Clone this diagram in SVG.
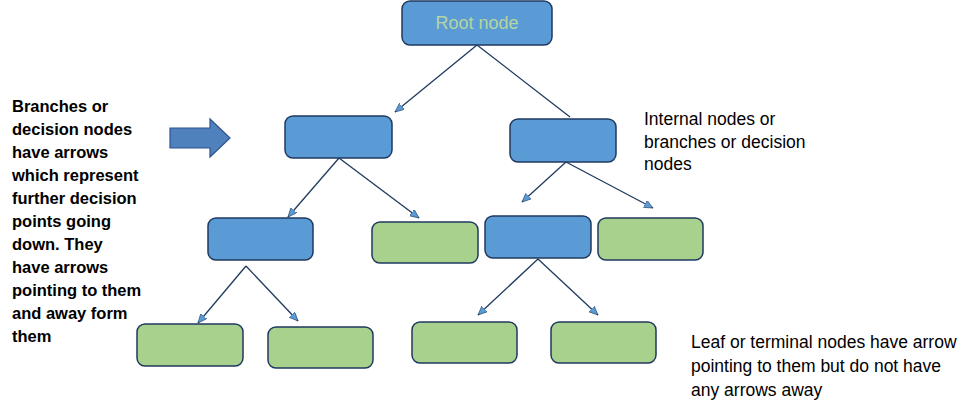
<svg xmlns="http://www.w3.org/2000/svg" width="976" height="413" viewBox="0 0 976 413">
<style>
.blue{fill:#5b9bd5;stroke:#1f3a5f;stroke-width:1.5}
.green{fill:#a9d18e;stroke:#1f3a5f;stroke-width:1.5}
.con{stroke:#1f3a5f;stroke-width:1.3;fill:none}
.t{font-family:"Liberation Sans",Arial,sans-serif;font-size:17.5px;fill:#000}
.tb{font-weight:bold;font-size:16.5px}
</style>
<defs>
<marker id="ah" markerWidth="10" markerHeight="8" refX="9" refY="4" orient="auto" markerUnits="userSpaceOnUse">
<path d="M0,0 L9,4 L0,8 Z" fill="#5b9bd5" stroke="#1f3a5f" stroke-width="0.6"/>
</marker>
</defs>
<rect width="976" height="413" fill="#fff"/>
<g id="connectors">
<line class="con" x1="477" y1="45" x2="395" y2="112" marker-end="url(#ah)"/>
<line class="con" x1="477" y1="45" x2="570" y2="117"/>
<line class="con" x1="339" y1="158" x2="288" y2="217" marker-end="url(#ah)"/>
<line class="con" x1="339" y1="158" x2="419" y2="218" marker-end="url(#ah)"/>
<line class="con" x1="566" y1="162" x2="522" y2="202" marker-end="url(#ah)"/>
<line class="con" x1="566" y1="162" x2="653" y2="208" marker-end="url(#ah)"/>
<line class="con" x1="246" y1="266" x2="198" y2="323" marker-end="url(#ah)"/>
<line class="con" x1="246" y1="266" x2="298" y2="321" marker-end="url(#ah)"/>
<line class="con" x1="538" y1="259" x2="478" y2="315" marker-end="url(#ah)"/>
<line class="con" x1="538" y1="259" x2="598" y2="315" marker-end="url(#ah)"/>
</g>
<g id="root">
<rect class="blue" x="402" y="1" width="150" height="44" rx="8"/>
<text x="477" y="29" text-anchor="middle" font-family="Liberation Sans,Arial,sans-serif" font-size="18" fill="#b5d5a3">Root node</text>
</g>
<g id="internal-left"><rect class="blue" x="285" y="116" width="107" height="42" rx="8"/></g>
<g id="internal-right"><rect class="blue" x="510" y="119" width="106" height="43" rx="8"/></g>
<g id="l3-blue-left"><rect class="blue" x="208" y="218" width="105" height="42" rx="8"/></g>
<g id="l3-green-1"><rect class="green" x="372" y="222" width="106" height="41" rx="8"/></g>
<g id="l3-blue-right"><rect class="blue" x="485" y="216" width="106" height="42" rx="8"/></g>
<g id="l3-green-2"><rect class="green" x="598" y="218" width="105" height="42" rx="8"/></g>
<g id="leaf-1"><rect class="green" x="137" y="324" width="106" height="42" rx="8"/></g>
<g id="leaf-2"><rect class="green" x="268" y="327" width="105" height="41" rx="8"/></g>
<g id="leaf-3"><rect class="green" x="412" y="322" width="105" height="41" rx="8"/></g>
<g id="leaf-4"><rect class="green" x="551" y="322" width="105" height="41" rx="8"/></g>
<g id="block-arrow">
<path d="M170,128 L210,128 L210,119 L230,138 L210,157 L210,148 L170,148 Z" fill="#4f81bd" stroke="#2f528f" stroke-width="1.2"/>
</g>
<g id="left-text" class="t tb">
<text x="12" y="112">Branches or</text>
<text x="12" y="135">decision nodes</text>
<text x="12" y="158">have arrows</text>
<text x="12" y="181">which represent</text>
<text x="12" y="204">further decision</text>
<text x="12" y="227">points going</text>
<text x="12" y="250">down. They</text>
<text x="12" y="273">have arrows</text>
<text x="12" y="296">pointing to them</text>
<text x="12" y="319">and away form</text>
<text x="12" y="342">them</text>
</g>
<g id="right-text" class="t">
<text x="644" y="125">Internal nodes or</text>
<text x="644" y="148">branches or decision</text>
<text x="644" y="170">nodes</text>
</g>
<g id="leaf-text" class="t">
<text x="691" y="348">Leaf or terminal nodes have arrow</text>
<text x="691" y="372">pointing to them but do not have</text>
<text x="691" y="396">any arrows away</text>
</g>
</svg>
